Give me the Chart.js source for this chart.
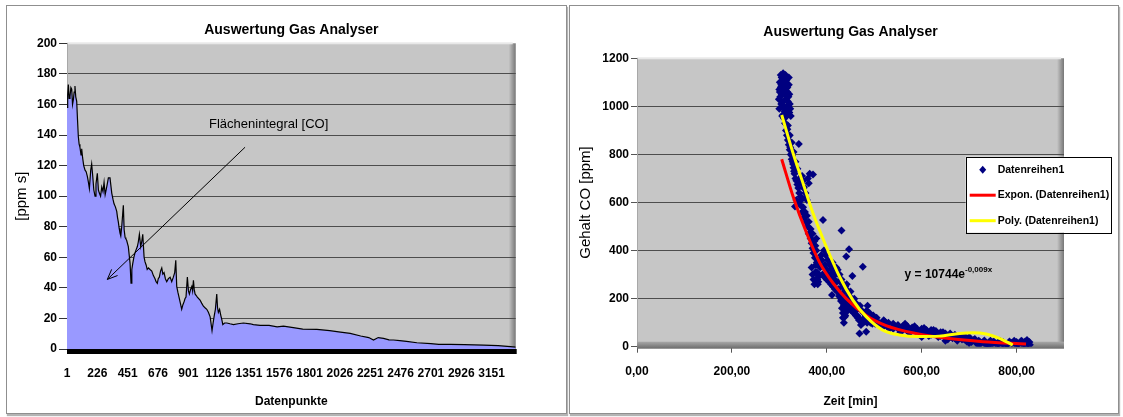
<!DOCTYPE html>
<html>
<head>
<meta charset="utf-8">
<script src="https://cdn.jsdelivr.net/npm/chart.js@4.4.1/dist/chart.umd.min.js"></script>
<style>
  html, body { margin: 0; padding: 0; background: #fff; }
  body { width: 1123px; height: 417px; position: relative; overflow: hidden; }
  .panel { position: absolute; top: 5px; height: 407px; border: 1px solid #8f8f8f; box-shadow: 1px 2px 1px #b4b4b4; background: #fff; }
  #links { left: 6px; width: 559px; }
  #rechts { left: 569px; width: 548px; }
  canvas { display: block; }
</style>
</head>
<body>
<div class="panel" id="links"><canvas id="flaecheChart" width="559" height="407"></canvas></div>
<div class="panel" id="rechts"><canvas id="gehaltChart" width="548" height="406"></canvas></div>
<script>
// linkes Diagramm: Flaechenintegral ueber Datenpunkte
const datenpunkt = [1, 6, 11, 17, 23, 30, 36, 42, 48, 54,
  60, 66, 73, 79, 85, 91, 97, 105, 110, 117,
  125, 135, 143, 152, 160, 167, 177, 184, 192, 200,
  209, 216, 226, 234, 241, 250, 259, 268, 276, 284,
  291, 300, 308, 320, 333, 342, 350, 360, 370, 376,
  382, 388, 394, 400, 407, 413, 419, 425, 432, 438,
  444, 450, 456, 463, 469, 476, 482, 489, 497, 506,
  514, 523, 530, 538, 548, 555, 563, 573, 580, 588,
  596, 605, 617, 630, 642, 654, 662, 671, 678, 686,
  695, 704, 712, 721, 731, 741, 753, 766, 778, 790,
  800, 808, 815, 824, 832, 842, 852, 861, 870, 877,
  884, 894, 902, 909, 918, 927, 933, 939, 945, 951,
  960, 968, 978, 988, 1000, 1013, 1025, 1038, 1050, 1063,
  1077, 1085, 1092, 1102, 1112, 1118, 1124, 1133, 1142, 1150,
  1157, 1170, 1187, 1210, 1236, 1270, 1310, 1360, 1384, 1434,
  1500, 1560, 1607, 1680, 1750, 1855, 1950, 2030, 2102, 2180,
  2240, 2275, 2310, 2349, 2390, 2423, 2470, 2520, 2597, 2700,
  2760, 2844, 2950, 3092, 3200, 3290, 3330];
const flaeche = [158, 166, 173, 164, 165, 171, 170, 160, 163, 168,
  172, 165, 162, 150, 139, 134, 132, 127, 131, 125,
  120, 117, 116, 113, 109, 105, 117, 121, 113, 104,
  100, 108, 115, 104, 102, 100, 106, 103, 109, 101,
  104, 108, 112, 112, 102, 98, 95, 93, 90, 86,
  83, 79, 76, 74, 80, 87, 94, 78, 73, 72,
  71, 69, 67, 61, 56, 43, 52, 56, 60, 63,
  65, 67, 70, 75, 67, 70, 75, 60, 57, 55,
  52, 53, 52, 51, 48, 46, 44, 43, 46, 47,
  51, 53, 49, 50, 46, 44, 46, 47, 44, 47,
  50, 58, 41, 37, 34, 30, 26, 29, 31, 33,
  34, 47, 38, 36, 39, 41, 38, 45, 39, 36,
  35, 34, 33, 32, 30, 28, 27, 26, 24, 21,
  12, 17, 21, 26, 36, 27, 24, 26, 22, 19,
  16, 17, 17, 16.5, 16, 16.5, 17, 16.5, 16, 15.5,
  15.5, 14.5, 15, 14, 13, 12.9, 12, 11, 10.2, 8.5,
  7.5, 5.9, 7.5, 7, 6, 5.9, 5.5, 5, 4.1, 3.5,
  3, 3, 2.8, 2.6, 2.2, 1.5, 1.2];
const datenpunktTicks = [1, 226, 451, 676, 901, 1126, 1351, 1576, 1801, 2026, 2251, 2476, 2701, 2926, 3151];

// rechtes Diagramm: Gehalt CO ueber Zeit
const zeitMin = [300, 302, 303, 304, 305, 306, 307, 308, 308, 309,
  310, 311, 312, 313, 314, 315, 316, 317, 318, 319,
  320, 321, 322, 301, 306, 312, 316, 310, 314, 318,
  299, 301, 303, 305, 307, 309, 311, 313, 315, 317,
  319, 321, 323, 300, 304, 308, 312, 316, 320, 324,
  312, 314, 316, 318, 320, 322, 324, 326, 328, 330,
  313, 315, 317, 319, 321, 323, 325, 327, 329, 331,
  318, 322, 326, 330, 334, 338, 343, 347, 351, 355,
  341, 332, 334, 336, 338, 340, 342, 345, 348, 350,
  352, 355, 358, 360, 362, 364, 371, 333, 336, 340,
  344, 348, 352, 356, 360, 362, 366, 368, 370, 372,
  346, 350, 354, 358, 362, 366, 370, 374, 378, 384,
  375, 377, 379, 380, 381, 383, 385, 388, 390, 392,
  368, 370, 372, 374, 376, 379, 382, 386, 391, 395,
  394, 396, 400, 398, 402, 406, 410, 376, 378, 382,
  404, 408, 411, 412, 415, 418, 421, 424, 427, 430,
  400, 405, 409, 413, 417, 422, 426, 430, 435, 439,
  432, 434, 436, 438, 440, 431, 447, 441, 476, 454,
  414, 416, 420, 425, 428, 433, 437, 443, 442, 445,
  423, 427, 431, 435, 439, 434, 436, 438, 440, 442,
  448, 452, 456, 460, 464, 468, 469, 472, 476, 480,
  444, 448, 452, 457, 461, 465, 470, 475, 480, 485,
  483, 484, 488, 492, 496, 500, 450, 458, 462, 466,
  470, 474, 478, 482, 486, 490, 494, 498, 444, 439,
  505, 510, 515, 520, 525, 530, 540, 550, 560, 570,
  502, 512, 522, 532, 542, 552, 562, 572, 582, 592,
  555, 565, 575, 585, 595, 605, 615, 625, 635, 645,
  580, 590, 600, 610, 620, 630, 640, 645, 650, 660,
  602, 612, 622, 632, 642, 652, 662, 672, 682, 692,
  670, 680, 690, 700, 710, 720, 730, 740, 745, 750,
  655, 665, 675, 685, 695, 705, 715, 725, 735, 748,
  702, 712, 722, 732, 742, 752, 762, 772, 782, 792,
  760, 770, 780, 790, 800, 805, 810, 815, 820, 825,
  802, 808, 814, 818, 824, 827, 795, 785, 775, 765,
  828, 520, 530, 540, 550, 560, 570, 580, 590, 600,
  610, 620, 630, 640, 650, 660, 670, 680, 690, 700,
  600, 650, 700, 720, 740, 760, 780, 800, 812, 822];
const gehaltCO = [990, 1040, 1080, 1010, 1120, 1060, 1100, 1138, 1020, 1070,
  1000, 1110, 1050, 1090, 1030, 1075, 1000, 1060, 985, 1040,
  1090, 975, 1010, 1060, 960, 1125, 1095, 950, 965, 1020,
  1030, 1100, 1130, 1050, 1000, 1120, 980, 1130, 1110, 1080,
  1000, 1050, 990, 1070, 1090, 965, 1070, 1040, 1120, 960,
  930, 900, 880, 860, 840, 820, 800, 780, 770, 745,
  955, 925, 905, 875, 855, 830, 815, 795, 760, 730,
  920, 880, 850, 810, 770, 740, 700, 680, 660, 620,
  843, 720, 700, 690, 675, 660, 640, 625, 710, 690,
  665, 640, 610, 700, 680, 720, 717, 583, 610, 600,
  590, 560, 540, 520, 500, 470, 450, 430, 410, 390,
  610, 580, 560, 545, 520, 490, 470, 440, 400, 360,
  370, 340, 310, 280, 260, 300, 340, 380, 360, 527,
  330, 300, 280, 260, 310, 350, 270, 330, 300, 290,
  400, 340, 320, 380, 360, 340, 320, 420, 450, 290,
  300, 290, 215, 350, 330, 300, 270, 240, 220, 190,
  280, 270, 260, 250, 240, 230, 210, 200, 180, 170,
  160, 140, 170, 200, 240, 483, 405, 375, 333, 294,
  310, 280, 330, 300, 270, 250, 230, 210, 260, 230,
  320, 300, 280, 260, 250, 120, 100, 125, 160, 190,
  210, 190, 170, 150, 130, 110, 55, 90, 100, 120,
  180, 160, 150, 140, 130, 120, 115, 110, 105, 100,
  62, 150, 110, 100, 95, 110, 230, 200, 180, 160,
  170, 150, 140, 130, 170, 140, 125, 130, 150, 130,
  120, 100, 95, 85, 90, 80, 75, 80, 70, 65,
  95, 90, 105, 75, 88, 72, 80, 62, 70, 58,
  60, 95, 58, 85, 50, 78, 45, 70, 40, 58,
  72, 60, 55, 62, 50, 55, 45, 60, 40, 42,
  65, 55, 60, 48, 52, 45, 48, 38, 42, 32,
  35, 40, 30, 35, 28, 25, 20, 10, 25, 18,
  30, 35, 25, 30, 22, 20, 15, 14, 8, 10,
  28, 32, 22, 26, 18, 22, 14, 18, 12, 16,
  15, 12, 10, 15, 20, 12, 25, 15, 10, 18,
  10, 18, 8, 22, 12, 20, 25, 22, 5, 25,
  8, 110, 100, 95, 90, 85, 85, 80, 75, 75,
  70, 70, 65, 60, 55, 55, 50, 45, 45, 40,
  40, 25, 15, 10, 5, 5, 8, 6, 22, 28];
// Trendlinien
const expZeit = [305, 329, 357, 385, 413, 441, 483, 525, 588, 658, 729, 820];
const expWert = [780, 625, 475, 350, 265, 200, 130, 88, 55, 34, 21, 11];
const polyZeit = [305, 329, 350, 371, 399, 427, 455, 483, 518, 553, 595, 637, 680, 708, 736, 764, 792];
const polyWert = [964, 805, 680, 555, 416, 291, 194, 125, 69, 49, 42, 44, 55, 58, 53, 35, 7];
const zeitTicks = [0, 200, 400, 600, 800];

// Lage der Beschriftungen (in Achsenwerten)
const pfeilVon = { x: 1322, y: 132 };
const pfeilNach = { x: 300, y: 45.5 };
const integralText = { x: 1497, y: 147 };
const gleichungPos = { x: 564, y: 298 };

Chart.defaults.font.family = "'Liberation Sans', Arial, sans-serif";
Chart.defaults.color = '#000';
Chart.defaults.animation = false;

const tickFont = { size: 12, weight: 'bold' };

// graue Wand, Schatten rechts, Boden
const wand3D = {
  id: 'wand3D',
  beforeDraw(chart, args, opts) {
    const { ctx, chartArea: a } = chart;
    ctx.save();
    ctx.fillStyle = '#c6c6c6';
    ctx.fillRect(a.left, a.top, a.width, a.height);
    let g = ctx.createLinearGradient(a.right - 7, 0, a.right, 0);
    g.addColorStop(0, 'rgba(0,0,0,0)');
    g.addColorStop(1, 'rgba(0,0,0,0.4)');
    ctx.fillStyle = g;
    ctx.fillRect(a.right - 7, a.top, 7, a.height);
    ctx.fillStyle = '#e8e8e8';
    ctx.fillRect(a.left, a.top - 1, a.width - 3, 2);
    ctx.restore();
  },
  beforeDatasetsDraw(chart, args, opts) {
    const { ctx, chartArea: a } = chart;
    ctx.save();
    if (opts.schwarz) {
      ctx.fillStyle = '#000';
      ctx.fillRect(a.left, a.bottom, a.width + 1, 5);
    } else {
      const g = ctx.createLinearGradient(0, a.bottom - 5, 0, a.bottom + 2);
      g.addColorStop(0, '#a8a8a8');
      g.addColorStop(1, '#6a6a6a');
      ctx.fillStyle = g;
      ctx.fillRect(a.left, a.bottom - 5, a.width, 7);
    }
    ctx.restore();
  }
};

const pfeil = {
  id: 'pfeil',
  afterDatasetsDraw(chart) {
    const { ctx, scales: { x, y } } = chart;
    const x1 = x.getPixelForValue(pfeilVon.x), y1 = y.getPixelForValue(pfeilVon.y);
    const x2 = x.getPixelForValue(pfeilNach.x), y2 = y.getPixelForValue(pfeilNach.y);
    const w = Math.atan2(y2 - y1, x2 - x1);
    ctx.save();
    ctx.strokeStyle = '#000';
    ctx.lineWidth = 1;
    ctx.beginPath();
    ctx.moveTo(x1, y1);
    ctx.lineTo(x2, y2);
    ctx.moveTo(x2 - 11 * Math.cos(w - 0.4), y2 - 11 * Math.sin(w - 0.4));
    ctx.lineTo(x2, y2);
    ctx.lineTo(x2 - 11 * Math.cos(w + 0.4), y2 - 11 * Math.sin(w + 0.4));
    ctx.stroke();
    ctx.font = "13px 'Liberation Sans', Arial, sans-serif";
    ctx.fillStyle = '#000';
    ctx.textAlign = 'center';
    ctx.textBaseline = 'middle';
    ctx.fillText('Flächenintegral [CO]', x.getPixelForValue(integralText.x), y.getPixelForValue(integralText.y));
    ctx.restore();
  }
};

new Chart(document.getElementById('flaecheChart'), {
  type: 'line',
  data: {
    datasets: [{
      label: 'Flächenintegral',
      data: datenpunkt.map((d, i) => ({ x: d, y: flaeche[i] })),
      fill: 'origin',
      backgroundColor: '#9999ff',
      borderColor: '#000',
      borderWidth: 1.2,
      pointRadius: 0,
      tension: 0
    }]
  },
  options: {
    responsive: false,
    layout: { padding: { left: 0, right: 50.3, top: 0, bottom: 0 } },
    plugins: {
      legend: { display: false },
      tooltip: { enabled: false },
      title: {
        display: true, fullSize: false, text: 'Auswertung Gas Analyser',
        font: { size: 14, weight: 'bold' }, color: '#000',
        padding: { top: 15.6, bottom: 4.9 }
      },
      wand3D: { schwarz: true }
    },
    scales: {
      x: {
        type: 'linear', min: 1, max: 3330,
        afterBuildTicks: s => { s.ticks = datenpunktTicks.map(v => ({ value: v })); },
        afterFit: s => { s.height = 64; },
        grid: { display: false, drawTicks: false },
        border: { display: false },
        ticks: { autoSkip: false, maxRotation: 0, padding: 17, font: tickFont, callback: v => String(v) },
        title: { display: true, text: 'Datenpunkte', font: { size: 12, weight: 'bold' }, padding: { top: 0, bottom: 3.8 } }
      },
      y: {
        min: 0, max: 200,
        afterFit: s => { s.width = 60; },
        ticks: { stepSize: 20, padding: 2, font: tickFont, callback: v => String(v) },
        grid: { color: c => (c.tick && c.tick.value === 200) ? 'rgba(0,0,0,0)' : '#4d4d4d', tickLength: 8, tickColor: '#333' },
        border: { display: true, color: '#a8a8a8' },
        title: { display: true, text: '[ppm s]', font: { size: 15 }, padding: { top: 5.7 } }
      }
    }
  },
  plugins: [wand3D, pfeil]
});

const legende = {
  id: 'legende',
  afterDraw(chart, args, opts) {
    const { ctx, chartArea: a } = chart;
    const lx = a.right - 98.3, ly = a.top + 98.4;
    ctx.save();
    ctx.fillStyle = '#fff';
    ctx.fillRect(lx, ly, 145, 76);
    ctx.strokeStyle = '#000';
    ctx.lineWidth = 1;
    ctx.strokeRect(Math.round(lx) + 0.5, Math.round(ly) + 0.5, 145, 76);
    ctx.font = "bold 10.5px 'Liberation Sans', Arial, sans-serif";
    ctx.textBaseline = 'middle';
    chart.data.datasets.forEach((ds, i) => {
      const ry = ly + 13 + i * 25.5;
      if (ds.showLine) {
        ctx.strokeStyle = ds.borderColor;
        ctx.lineWidth = 3;
        ctx.beginPath();
        ctx.moveTo(lx + 4, ry);
        ctx.lineTo(lx + 30, ry);
        ctx.stroke();
      } else {
        ctx.fillStyle = ds.backgroundColor;
        ctx.beginPath();
        ctx.moveTo(lx + 17, ry - 4);
        ctx.lineTo(lx + 20.5, ry);
        ctx.lineTo(lx + 17, ry + 4);
        ctx.lineTo(lx + 13.5, ry);
        ctx.closePath();
        ctx.fill();
      }
      ctx.fillStyle = '#000';
      ctx.fillText(ds.label, lx + 32, ry);
    });
    // Gleichung der Exponential-Trendlinie
    const gx = chart.scales.x.getPixelForValue(gleichungPos.x);
    const gy = chart.scales.y.getPixelForValue(gleichungPos.y);
    ctx.font = "bold 12px 'Liberation Sans', Arial, sans-serif";
    ctx.textAlign = 'left';
    ctx.fillText('y = 10744e', gx, gy);
    const w = ctx.measureText('y = 10744e').width;
    ctx.font = "bold 8px 'Liberation Sans', Arial, sans-serif";
    ctx.fillText('-0,009x', gx + w, gy - 5);
    ctx.restore();
  }
};

new Chart(document.getElementById('gehaltChart'), {
  type: 'scatter',
  data: {
    datasets: [{
      label: 'Datenreihen1',
      data: zeitMin.map((t, i) => ({ x: t, y: gehaltCO[i] })),
      pointStyle: 'rectRot',
      pointRadius: 4,
      borderWidth: 0,
      backgroundColor: '#000080',
      borderColor: '#000080',
      order: 3
    }, {
      label: 'Expon. (Datenreihen1)',
      data: expZeit.map((t, i) => ({ x: t, y: expWert[i] })),
      showLine: true,
      pointRadius: 0,
      borderColor: '#ff0000',
      backgroundColor: '#ff0000',
      borderWidth: 3,
      cubicInterpolationMode: 'monotone',
      order: 2
    }, {
      label: 'Poly. (Datenreihen1)',
      data: polyZeit.map((t, i) => ({ x: t, y: polyWert[i] })),
      showLine: true,
      pointRadius: 0,
      borderColor: '#ffff00',
      backgroundColor: '#ffff00',
      borderWidth: 3,
      cubicInterpolationMode: 'monotone',
      order: 1
    }]
  },
  options: {
    responsive: false,
    layout: { padding: { left: 0, right: 54, top: 0, bottom: 0 } },
    plugins: {
      legend: { display: false },
      tooltip: { enabled: false },
      title: {
        display: true, fullSize: false, text: 'Auswertung Gas Analyser',
        font: { size: 14, weight: 'bold' }, color: '#000',
        padding: { top: 17.6, bottom: 17.9 }
      },
      wand3D: { schwarz: false }
    },
    scales: {
      x: {
        type: 'linear', min: 0, max: 900,
        afterBuildTicks: s => { s.ticks = zeitTicks.map(v => ({ value: v })); },
        afterFit: s => { s.height = 65.3; },
        grid: { drawOnChartArea: false, drawTicks: true, tickLength: 6, color: '#555' },
        border: { display: false },
        ticks: { autoSkip: false, maxRotation: 0, padding: 12, font: tickFont, callback: v => v.toFixed(2).replace('.', ',') },
        title: { display: true, text: 'Zeit [min]', font: { size: 12, weight: 'bold' }, padding: { top: 0, bottom: 3.1 } }
      },
      y: {
        min: 0, max: 1200,
        afterFit: s => { s.width = 67; },
        ticks: { stepSize: 200, padding: 2, font: tickFont, callback: v => String(v) },
        grid: { color: c => (c.tick && c.tick.value === 1200) ? 'rgba(0,0,0,0)' : '#4d4d4d', tickLength: 6, tickColor: '#555' },
        border: { display: true, color: '#a8a8a8' },
        title: { display: true, text: 'Gehalt CO [ppm]', font: { size: 15 }, padding: { top: 6.5 } }
      }
    }
  },
  plugins: [wand3D, legende]
});
</script>
</body>
</html>
